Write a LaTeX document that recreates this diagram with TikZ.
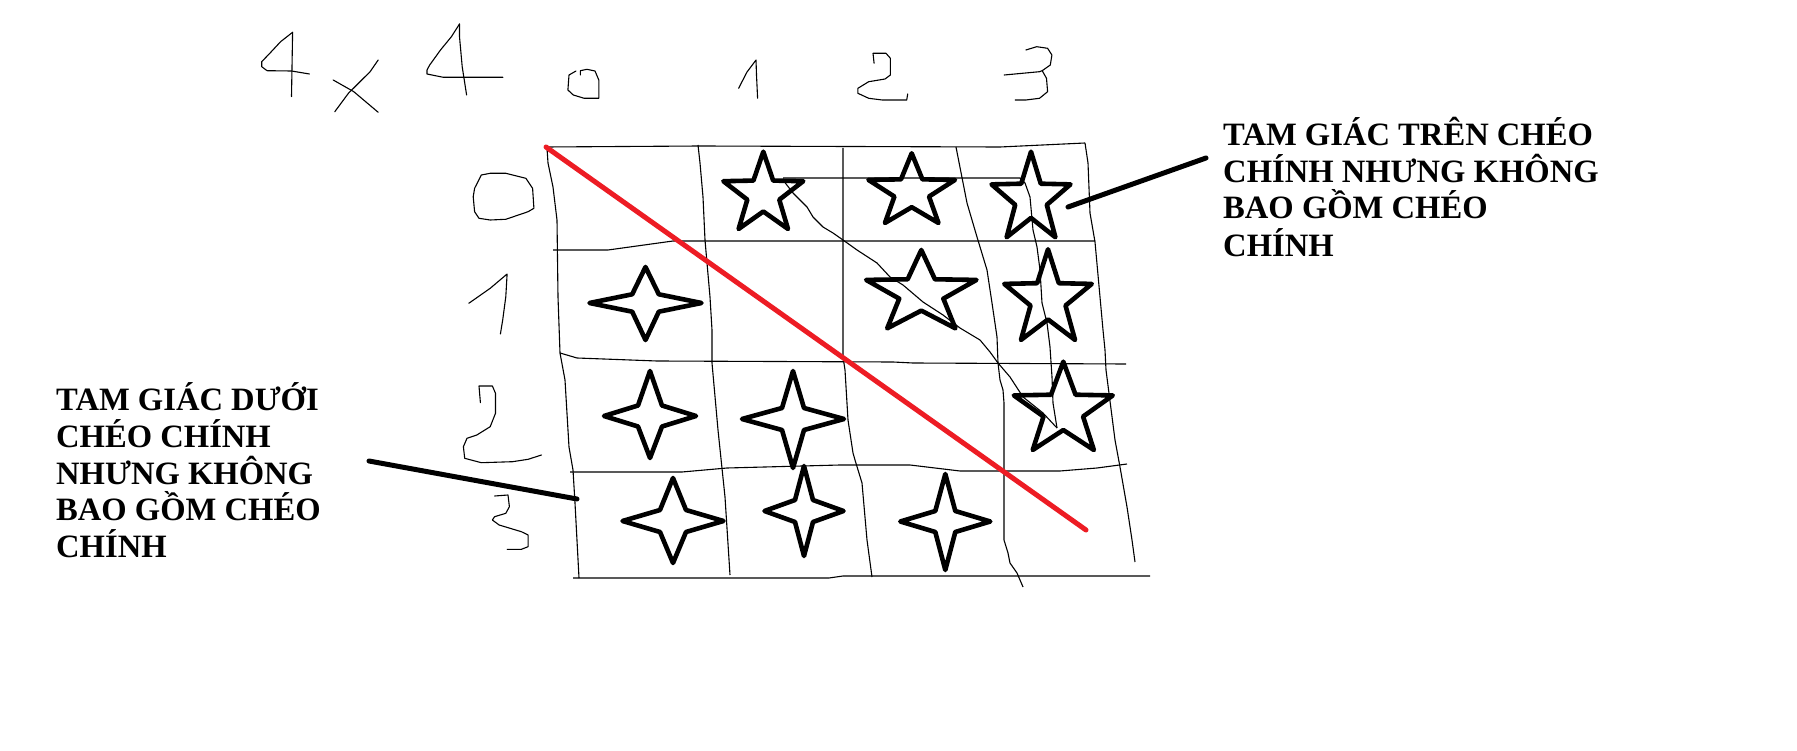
\documentclass[tikz,border=0pt]{standalone}
\usepackage{fontspec}
\setmainfont{Liberation Serif}
\definecolor{paintred}{RGB}{237,28,36}
\newcommand\fivestar[4]{\draw[starln] plot[samples at={0,...,9}] ({#1+#3*(0.7+0.3*cos(180*\x))*cos(90+36*\x)},{#2-#4*(0.7+0.3*cos(180*\x))*sin(90+36*\x)}) -- cycle;}
\newcommand\fourstar[7]{\draw[starln] (#1-#3,#2) -- (#1-#6,#2-#7) -- (#1,#2-#4) -- (#1+#6,#2-#7) -- (#1+#3,#2) -- (#1+#6,#2+#7) -- (#1,#2+#5) -- (#1-#6,#2+#7) -- cycle;}
\begin{document}
\begin{tikzpicture}[x=1pt,y=-1pt,
  gridln/.style={line width=1.1pt, line join=round},
  starln/.style={line width=4.6pt, line join=round},
  hand/.style={line width=1.1pt, line join=round, line cap=round},
  ptr/.style={line width=5pt, line cap=round},
  diagln/.style={line width=5pt, draw=paintred, line cap=round},
  lbl/.style={anchor=base west, inner sep=0pt, font=\fontsize{32.6}{37}\selectfont\bfseries}]
\useasboundingbox[fill=white] (0,0) rectangle (1797,751);

% handwritten header 4x4 and column numbers
\draw[hand] (292.6,32.3) -- (280.6,41.7) -- (269.8,53.3) -- (261.7,61.7) -- (261.7,66.7) -- (267.1,70.7) -- (291.5,71) -- (309.4,74);
\draw[hand] (292.6,32.3) -- (291.5,96.7);
\draw[hand] (333.2,80) -- (353.8,91.7) -- (378.2,112.3);
\draw[hand] (378.2,60) -- (370.1,71.7) -- (348.4,93.3) -- (334.8,111.7);
\draw[hand] (459.5,24) -- (459.5,36.7) -- (462.2,66.7) -- (466.6,95);
\draw[hand] (459.5,24) -- (451.4,36.7) -- (440.5,50) -- (429.7,65) -- (427,70) -- (427,74) -- (443.3,77.3) -- (502.9,77.3);
\draw[hand] (580.4,75) -- (580.4,70.7) -- (586.9,69.3) -- (595,71) -- (598.8,80) -- (598.8,98.3) -- (584.2,98.3) -- (573.3,95) -- (567.9,90) -- (569,75) -- (576,71);
\draw[hand] (738.6,88.3) -- (747,72) -- (756,60) -- (756.5,75) -- (757.6,98.3);
\draw[hand] (874.1,63.3) -- (873,53.3) -- (886,53.3) -- (890.4,58.3) -- (890.4,75) -- (885,79) -- (868.7,81.7) -- (857.9,88.3) -- (857.9,93.3) -- (868.7,98.3) -- (882.2,100) -- (906.7,100) -- (907.7,94);
\draw[hand] (1025.9,50) -- (1036.7,46.7) -- (1047.6,48.3) -- (1051.9,55) -- (1050.3,65) -- (1042.2,70.7);
\draw[hand] (1004.2,75) -- (1039.5,71.7) -- (1042.2,70.7) -- (1046.5,78.3) -- (1047.6,91.7) -- (1039.5,98.3) -- (1025.9,100) -- (1015.1,100);

% handwritten row numbers
\draw[hand] (481.3,175) -- (490.2,173.3) -- (505.8,173.3) -- (525.9,178.3) -- (532.6,188.3) -- (533.9,208.3) -- (528.1,211.7) -- (505.8,219.3) -- (490.2,220) -- (479,218.3) -- (474.6,211.7) -- (473.2,196.7) -- (474.6,188.3) -- cycle;
\draw[hand] (468.8,303.3) -- (490.2,288.3) -- (507.1,274) -- (505.8,296.7) -- (502.7,320) -- (500.4,334);
\draw[hand] (480.4,402.7) -- (479,386) -- (492.4,386) -- (495.5,393.3) -- (495.5,413.3) -- (490.2,426.7) -- (476.8,435) -- (467,438.3) -- (463.4,446.7) -- (464.7,458.3) -- (481.3,462.7) -- (512.5,461.7) -- (528.1,459.3) -- (541.5,455);
\draw[hand] (494.6,496) -- (508,495) -- (509.4,506.7) -- (505.8,513.3) -- (494.6,516.7) -- (492.4,520) -- (499.1,525) -- (521.4,531.7) -- (528.1,535) -- (528.1,546.7) -- (521.4,549.3) -- (507.1,549.3);

% grid
\draw[gridln] (546,147) -- (700,146) -- (1000,147) -- (1085,143);
\draw[gridln] (553,250) -- (608,250) -- (673,241) -- (1095,241);
\draw[gridln] (560,353) -- (577,358) -- (657,361) -- (893,362) -- (913,363) -- (1126,364);
\draw[gridln] (570,472) -- (682,472) -- (727,468) -- (840,465) -- (910,465) -- (960,471) -- (1060,471) -- (1097,468) -- (1127,464);
\draw[gridln] (573,578) -- (829,578) -- (843,576) -- (1150,576);
\draw[gridln] (547,148) -- (548,163) -- (553,187) -- (557,220) -- (558,297) -- (560,353) -- (565,380) -- (569,447) -- (573,470) -- (575,503) -- (579,578);
\draw[gridln] (698,145) -- (700,163) -- (703,197) -- (705,240) -- (707,263) -- (710,297) -- (712,330) -- (712,363) -- (718,430) -- (725,497) -- (730,575);
\draw[gridln] (843,148) -- (843,357) -- (845,370) -- (848,420) -- (853,453) -- (855,460) -- (862,483) -- (867,540) -- (872,577);
\draw[gridln] (956,147) -- (967,203) -- (977,237) -- (987,270) -- (992,303) -- (997,337) -- (998,363) -- (1000,380) -- (1003,390) -- (1004,403) -- (1004,540) -- (1008,553) -- (1010,563) -- (1017,573) -- (1023,587);
\draw[gridln] (1085,143) -- (1088,163) -- (1090,213) -- (1095,242) -- (1100,297) -- (1103,330) -- (1105,350) -- (1106,370) -- (1115,440) -- (1120,467) -- (1127,507) -- (1132,540) -- (1135,562);
% thin extra strokes in the upper triangle
\draw[gridln] (783,178) -- (1020,178) -- (1025,183) -- (1030,197) -- (1033,230) -- (1037,247) -- (1040,270) -- (1042,303) -- (1047,323) -- (1050,347) -- (1052,377) -- (1053,403) -- (1057,428);
\draw[gridln] (783,180) -- (793,193) -- (807,207) -- (813,217) -- (823,227) -- (833,233) -- (843,240) -- (857,250) -- (877,263) -- (890,277) -- (903,285) -- (923,302) -- (943,315) -- (960,328) -- (980,340) -- (990,352) -- (998,363) -- (1010,377) -- (1023,397) -- (1043,413) -- (1057,428);

% main diagonal
\coordinate (dA) at (546,147);
\coordinate (dB) at (1086,530);
\draw[diagln] (dA) -- (dB);

% five-pointed stars (upper triangle)
\fivestar{763.3}{194.4}{42}{42.7}
\fivestar{911.7}{191.8}{45.5}{38.5}
\fivestar{1031}{199}{41.5}{47.3}
\fivestar{921.3}{293.3}{58}{43.3}
\fivestar{1048}{299.4}{46}{50.1}
\fivestar{1063.3}{410.5}{52}{48.8}

% four-pointed stars (lower triangle)
\fourstar{645.5}{303}{56}{36}{37}{13.3}{8.7}
\fourstar{650}{416}{46}{45}{42}{12}{10.5}
\fourstar{793}{419}{51}{48}{49}{11}{11}
\fourstar{673}{521}{50.5}{43}{42}{13}{11}
\fourstar{804}{511}{39.5}{45}{45}{9}{11}
\fourstar{945.3}{521.5}{45}{47.5}{48.5}{10}{10.5}

% labels
\node[lbl] (rt1) at (1223,145.7) {TAM GIÁC TRÊN CHÉO};
\node[lbl] (rt2) at (1223,182.3) {CHÍNH NHƯNG KHÔNG};
\node[lbl] (rt3) at (1223,219) {BAO GỒM CHÉO};
\node[lbl] (rt4) at (1223,256.3) {CHÍNH};
\node[lbl] (lt1) at (56,410.7) {TAM GIÁC DƯỚI};
\node[lbl] (lt2) at (56,447.3) {CHÉO CHÍNH};
\node[lbl] (lt3) at (56,484) {NHƯNG KHÔNG};
\node[lbl] (lt4) at (56,520.7) {BAO GỒM CHÉO};
\node[lbl] (lt5) at (56,557.3) {CHÍNH};

% pointer lines
\coordinate (rpA) at (1068,207);
\coordinate (rpB) at (1206,158);
\coordinate (lpA) at (369,461);
\coordinate (lpB) at (577,499);
\draw[ptr] (rpA) -- (rpB);
\draw[ptr] (lpA) -- (lpB);
\end{tikzpicture}
\end{document}
